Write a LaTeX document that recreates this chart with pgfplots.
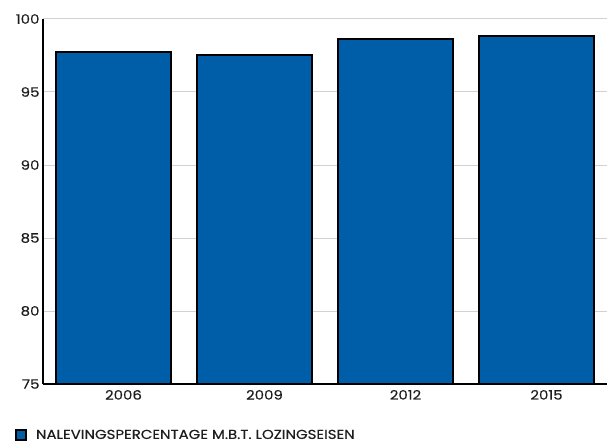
\documentclass[border=0pt]{standalone}
\usepackage{pgfplots}
\pgfplotsset{compat=1.18}
\usepackage{fontspec}
\setmainfont{Poppins}
\newfontfamily\lbl{Poppins}[FakeStretch=1.15, FakeBold=0.4]
\definecolor{barblue}{RGB}{0,94,168}
\definecolor{gridgray}{RGB}{210,210,210}
\definecolor{labeltext}{RGB}{30,30,30}
\begin{document}
\begin{tikzpicture}[x=1pt,y=1pt]
\begin{axis}[
  scale only axis, width=564pt, height=365pt,
  ymin=75, ymax=100, ytick={75,80,...,100},
  xmin=-0.5, xmax=3.5,
  xtick=data, xticklabels={2006,2009,2012,2015},
  ybar, bar width=0.81, bar shift=0pt,
  axis x line*=bottom, axis y line*=left,
  axis line style={black, line width=1.8pt},
  x axis line style={-}, y axis line style={-},
  major tick length=0pt,
  ymajorgrids, grid style={gridgray, line width=1pt},
  tick label style={font=\lbl\fontsize{13}{15}\selectfont, text=labeltext},
  /pgf/number format/assume math mode=true,
  yticklabel style={xshift=0pt},
  xticklabel style={xshift=10pt, yshift=-2.5pt},
  legend style={draw=none, fill=none, at={(axis description cs:-0.0514,-0.140)}, anchor=west,
    font=\lbl\fontsize{13}{15}\selectfont, text=labeltext, inner sep=0pt},
  legend image code/.code={
    \draw[fill=barblue, draw=black, line width=1.8pt] (0.9pt,-4.6pt) rectangle (11.1pt,5.4pt);
    \path (0pt,0pt) (18pt,0pt);},
  clip=false,
]
\addplot[fill=barblue, draw=black, line width=1.8pt] coordinates {(0,97.74) (1,97.53) (2,98.63) (3,98.84)};
\addlegendentry{NALEVINGSPERCENTAGE M.B.T. LOZINGSEISEN}
\coordinate (bl) at (rel axis cs:0,0);
\end{axis}
\pgfresetboundingbox
\useasboundingbox ([shift={(-43pt,-58pt)}]bl) rectangle ([shift={(564pt,384pt)}]bl);
\end{tikzpicture}
\end{document}
